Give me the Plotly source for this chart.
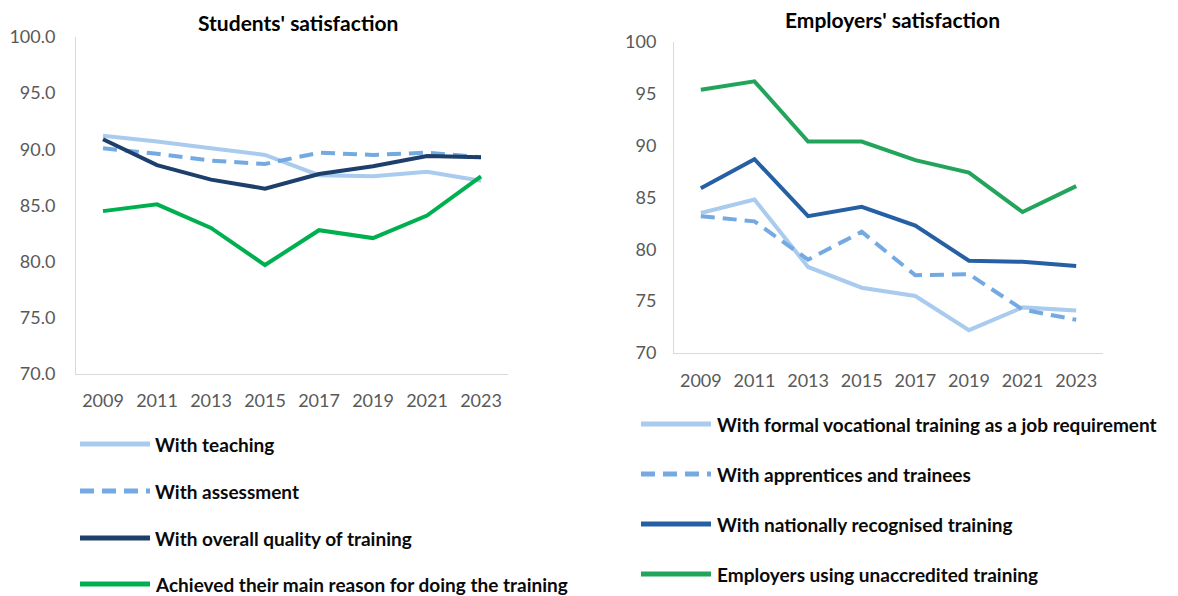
import plotly.graph_objects as go

years = ["2009", "2011", "2013", "2015", "2017", "2019", "2021", "2023"]

# Students' satisfaction
stu_teaching = [91.2, 90.7, 90.1, 89.5, 87.7, 87.6, 88.0, 87.2]
stu_assessment = [90.1, 89.6, 89.0, 88.7, 89.7, 89.5, 89.7, 89.3]
stu_overall = [90.9, 88.6, 87.3, 86.5, 87.8, 88.5, 89.4, 89.3]
stu_achieved = [84.5, 85.1, 83.0, 79.7, 82.8, 82.1, 84.1, 87.6]
stu_names = ["With teaching", "With assessment", "With overall quality of training",
             "Achieved their main reason for doing the training"]

# Employers' satisfaction
emp_formal = [83.5, 84.8, 78.3, 76.3, 75.5, 72.2, 74.4, 74.1]
emp_apprentices = [83.2, 82.7, 79.0, 81.7, 77.5, 77.6, 74.2, 73.2]
emp_national = [85.9, 88.7, 83.2, 84.1, 82.3, 78.9, 78.8, 78.4]
emp_unaccredited = [95.4, 96.2, 90.4, 90.4, 88.6, 87.4, 83.6, 86.1]
emp_names = ["With formal vocational training as a job requirement", "With apprentices and trainees",
             "With nationally recognised training", "Employers using unaccredited training"]

W, H = 1178, 596
FONT = "Lato"

stu_styles = [("#A9CBEE", "solid"), ("#74AAE1", "14px,8px"), ("#1C3F6C", "solid"), ("#00B050", "solid")]
emp_styles = [("#A9CBEE", "solid"), ("#74AAE1", "14px,8px"), ("#2660A4", "solid"), ("#22A55A", "solid")]

fig = go.Figure()
for vals, name, (col, dash) in zip([stu_teaching, stu_assessment, stu_overall, stu_achieved], stu_names, stu_styles):
    fig.add_trace(go.Scatter(x=years, y=vals, name=name, mode="lines", xaxis="x", yaxis="y",
                             line=dict(color=col, width=4, dash=dash), showlegend=False))
for vals, name, (col, dash) in zip([emp_formal, emp_apprentices, emp_national, emp_unaccredited], emp_names, emp_styles):
    fig.add_trace(go.Scatter(x=years, y=vals, name=name, mode="lines", xaxis="x2", yaxis="y2",
                             line=dict(color=col, width=4, dash=dash), showlegend=False))

axis_common = dict(showgrid=False, zeroline=False, showline=True, linecolor="#D9D9D9", linewidth=1,
                   ticks="", automargin=False, tickfont=dict(family=FONT, size=18, color="#595959"))

fig.update_layout(
    width=W, height=H, autosize=False,
    margin=dict(l=0, r=0, t=0, b=0, pad=0, autoexpand=False),
    paper_bgcolor="white", plot_bgcolor="white",
    font=dict(family=FONT),
    xaxis=dict(domain=[76 / W, 508 / W], type="category", range=[-0.5, 7.5], anchor="y",
               ticklabelstandoff=10, **axis_common),
    yaxis=dict(domain=[1 - 374 / H, 1 - 37 / H], range=[70, 100], dtick=5, tickformat=".1f", anchor="x",
               ticklabelstandoff=16, **axis_common),
    xaxis2=dict(domain=[674 / W, 1103 / W], type="category", range=[-0.5, 7.5], anchor="y2",
                ticklabelstandoff=11, **axis_common),
    yaxis2=dict(domain=[1 - 353 / H, 1 - 42 / H], range=[70, 100], dtick=5, anchor="x2",
                ticklabelstandoff=13, **axis_common),
)

annotations = [
    dict(text="<b>Students' satisfaction</b>", x=298 / W, y=1 - 22 / H, xref="paper", yref="paper",
         showarrow=False, font=dict(family=FONT, size=21, color="black"), xanchor="center", yanchor="middle"),
    dict(text="<b>Employers' satisfaction</b>", x=892 / W, y=1 - 20 / H, xref="paper", yref="paper",
         showarrow=False, font=dict(family=FONT, size=21, color="black"), xanchor="center", yanchor="middle"),
]
shapes = []

# Custom legends (sample line + label)
def add_legend(names, styles, x0, x1, xt, ys):
    for name, (col, dash), yy in zip(names, styles, ys):
        yp = 1 - yy / H
        shapes.append(dict(type="line", xref="paper", yref="paper", x0=x0 / W, x1=x1 / W, y0=yp, y1=yp,
                           line=dict(color=col, width=5, dash=dash)))
        annotations.append(dict(text="<b>" + name + "</b>", x=xt / W, y=yp, xref="paper", yref="paper",
                                showarrow=False, xanchor="left", yanchor="middle",
                                font=dict(family=FONT, size=19, color="#0A0A0A")))

add_legend(stu_names, stu_styles, 80, 150, 153, [444, 491, 538, 584])
add_legend(emp_names, emp_styles, 641, 711, 715, [424, 474, 524, 574])

fig.update_layout(annotations=annotations, shapes=shapes)
fig.write_html("out.html", config={"displayModeBar": False},
               post_script="document.body.style.margin='0';document.body.style.overflow='hidden';")
